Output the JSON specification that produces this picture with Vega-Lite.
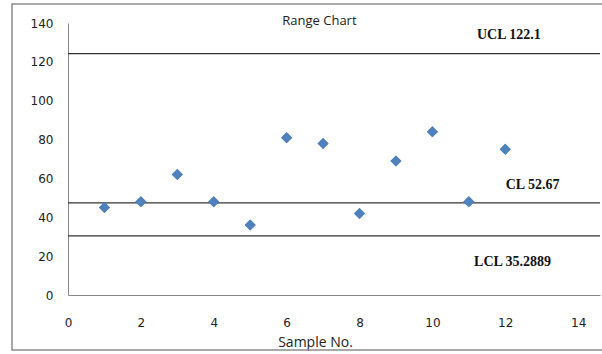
{
  "$schema": "https://vega.github.io/schema/vega-lite/v6.json",
  "width": 532,
  "height": 272,
  "autosize": "none",
  "padding": {"left": 68, "top": 23, "right": 2, "bottom": 59},
  "background": "white",
  "config": {
    "view": {"stroke": null},
    "axis": {"labelOverlap": false, "labelSeparation": 0, "labelFlush": false, "ticks": false, "grid": false, "domainColor": "#868686", "domainWidth": 1, "labelFont": "DejaVu Sans", "labelFontSize": 12, "labelColor": "#222222"}
  },
  "datasets": {
    "samples": [
      {"sample": 1, "range": 45},
      {"sample": 2, "range": 48},
      {"sample": 3, "range": 62},
      {"sample": 4, "range": 48},
      {"sample": 5, "range": 36},
      {"sample": 6, "range": 81},
      {"sample": 7, "range": 78},
      {"sample": 8, "range": 42},
      {"sample": 9, "range": 69},
      {"sample": 10, "range": 84},
      {"sample": 11, "range": 48},
      {"sample": 12, "range": 75}
    ],
    "limits": [
      {"limit": "UCL", "value": 124.2, "label": "UCL 122.1", "lx": 12.1, "ly": 133.8},
      {"limit": "CL", "value": 47.4, "label": "CL 52.67", "lx": 12.75, "ly": 56.6},
      {"limit": "LCL", "value": 30.4, "label": "LCL 35.2889", "lx": 12.2, "ly": 17}
    ],
    "frame": [
      {"x0": -1.537, "x1": 14.75, "y0": 149.8, "y1": -28.3}
    ]
  },
  "layer": [
    {
      "data": {"name": "samples"},
      "mark": {"type": "point", "shape": "diamond", "filled": true, "size": 121, "color": "#4F81BD", "opacity": 1},
      "encoding": {
        "x": {
          "field": "sample", "type": "quantitative",
          "scale": {"domain": [0, 14.6], "nice": false},
          "axis": {
            "values": [0, 2, 4, 6, 8, 10, 12, 14],
            "title": "Sample No.",
            "titleFont": "Open Sans", "titleFontSize": 14, "titleFontWeight": "normal", "titleColor": "#222222",
            "titleAnchor": "start", "titleAlign": "center", "titleX": 247, "titleY": 51, "titleBaseline": "alphabetic",
            "labelPadding": 22
          }
        },
        "y": {
          "field": "range", "type": "quantitative",
          "scale": {"domain": [0, 140], "nice": false},
          "axis": {
            "values": [0, 20, 40, 60, 80, 100, 120, 140],
            "tickCount": 8,
            "format": "d",
            "labelOverlap": false,
            "labelSeparation": 0,
            "title": null,
            "labelPadding": 15
          }
        }
      }
    },
    {
      "data": {"name": "frame"},
      "mark": {"type": "rect", "fill": "white", "fillOpacity": 0, "stroke": "#8c8c8c", "strokeWidth": 1.5, "clip": false},
      "encoding": {
        "x": {"field": "x0", "type": "quantitative"},
        "x2": {"field": "x1"},
        "y": {"field": "y0", "type": "quantitative"},
        "y2": {"field": "y1"}
      }
    },
    {
      "data": {"name": "limits"},
      "mark": {"type": "rule", "color": "#333333", "strokeWidth": 1.3},
      "encoding": {
        "y": {"field": "value", "type": "quantitative"}
      }
    },
    {
      "data": {"name": "limits"},
      "mark": {"type": "text", "font": "Liberation Serif", "fontWeight": "bold", "fontSize": 14, "color": "#111111", "align": "center", "baseline": "middle"},
      "encoding": {
        "x": {"field": "lx", "type": "quantitative"},
        "y": {"field": "ly", "type": "quantitative"},
        "text": {"field": "label"}
      }
    },
    {
      "data": {"values": [{"t": "Range  Chart", "x": 6.9, "y": 141.2}]},
      "mark": {"type": "text", "font": "Open Sans", "fontSize": 13, "color": "#222222", "align": "center", "baseline": "middle"},
      "encoding": {
        "x": {"field": "x", "type": "quantitative"},
        "y": {"field": "y", "type": "quantitative"},
        "text": {"field": "t"}
      }
    },
    {
      "data": {"name": "samples"},
      "mark": {"type": "point", "shape": "diamond", "filled": true, "size": 121, "color": "#4F81BD", "opacity": 1},
      "encoding": {
        "x": {"field": "sample", "type": "quantitative"},
        "y": {"field": "range", "type": "quantitative"}
      }
    }
  ]
}
